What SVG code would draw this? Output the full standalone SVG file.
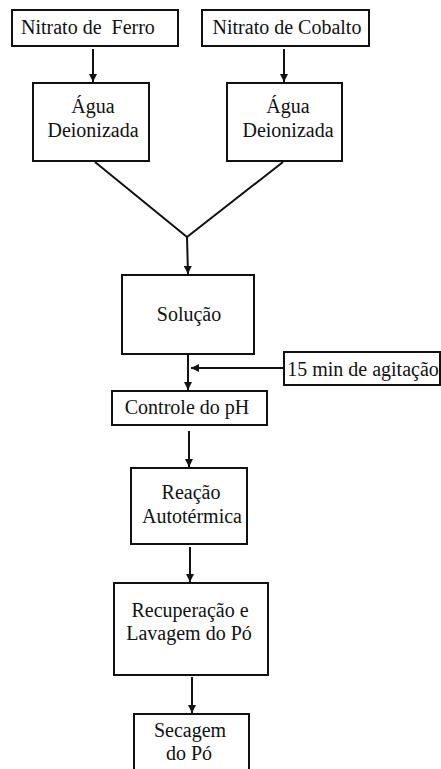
<svg xmlns="http://www.w3.org/2000/svg" width="441" height="769" viewBox="0 0 441 769">
<style>
.b{fill:#fff;stroke:#111;stroke-width:2}
.t{font-size:20px;fill:#111;text-anchor:middle}
.c{stroke:#111;stroke-width:2;fill:none}
</style>
<defs>
<marker id="ah" viewBox="0 0 10 10" refX="10" refY="5" markerWidth="4" markerHeight="4" orient="auto" markerUnits="strokeWidth">
<path d="M0,0 L10,5 L0,10 z" fill="#111"/>
</marker>
</defs>
<rect width="441" height="769" fill="#fff"/>
<g id="connectors">
<line class="c" x1="93" y1="49" x2="93" y2="82" marker-end="url(#ah)"/>
<line class="c" x1="284" y1="49" x2="284" y2="82" marker-end="url(#ah)"/>
<polyline class="c" points="95,162 187,237 283,162"/>
<line class="c" x1="187" y1="237" x2="188" y2="274" marker-end="url(#ah)"/>
<line class="c" x1="188" y1="355" x2="188" y2="390" marker-end="url(#ah)"/>
<line class="c" x1="284" y1="368" x2="191" y2="368" marker-end="url(#ah)"/>
<line class="c" x1="189" y1="431" x2="189" y2="467" marker-end="url(#ah)"/>
<line class="c" x1="190" y1="547" x2="190" y2="582" marker-end="url(#ah)"/>
<line class="c" x1="192" y1="677" x2="192" y2="713" marker-end="url(#ah)"/>
</g>
<g font-family="Liberation Serif, DejaVu Serif, serif">
<g id="n1"><rect class="b" x="12" y="10" width="166" height="36"/><text class="t" x="21" y="34" style="text-anchor:start;white-space:pre" xml:space="preserve">Nitrato de  Ferro</text></g>
<g id="n2"><rect class="b" x="202" y="10" width="167" height="36"/><text class="t" x="287" y="34">Nitrato de Cobalto</text></g>
<g id="n3"><rect class="b" x="33" y="83" width="116" height="78"/><text class="t" x="93" y="113">Água</text><text class="t" x="93" y="137">Deionizada</text></g>
<g id="n4"><rect class="b" x="227" y="83" width="115" height="78"/><text class="t" x="288" y="113">Água</text><text class="t" x="288" y="137">Deionizada</text></g>
<g id="n5"><rect class="b" x="122" y="275" width="132" height="79"/><text class="t" x="189" y="321">Solução</text></g>
<g id="n6"><rect class="b" x="284" y="352" width="156" height="33"/><text class="t" x="363" y="376">15 min de agitação</text></g>
<g id="n7"><rect class="b" x="112" y="391" width="155" height="34"/><text class="t" x="187" y="414">Controle do pH</text></g>
<g id="n8"><rect class="b" x="131" y="468" width="116" height="76"/><text class="t" x="191" y="499">Reação</text><text class="t" x="192" y="523">Autotérmica</text></g>
<g id="n9"><rect class="b" x="114" y="583" width="154" height="92"/><text class="t" x="190" y="617">Recuperação e</text><text class="t" x="189" y="640">Lavagem do Pó</text></g>
<g id="n10"><rect class="b" x="134" y="714" width="115" height="70"/><text class="t" x="190" y="737">Secagem</text><text class="t" x="189" y="760">do Pó</text></g>
</g>
</svg>
